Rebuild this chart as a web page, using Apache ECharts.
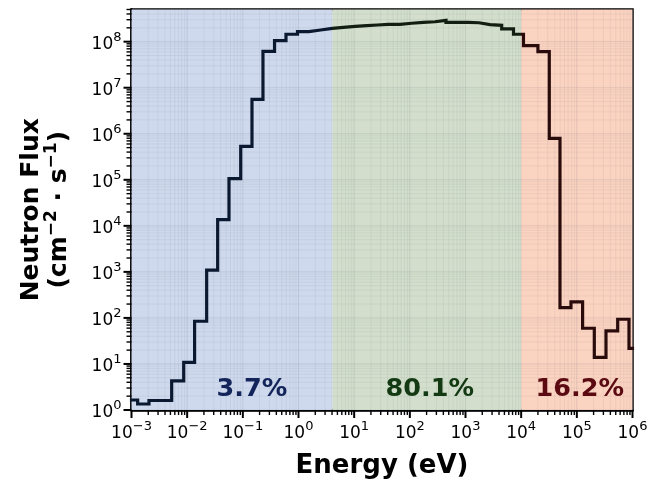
<!DOCTYPE html>
<html>
<head>
<meta charset="utf-8">
<script src="https://cdn.jsdelivr.net/npm/echarts@6/dist/echarts.min.js"></script>
<style>
  html, body { margin: 0; padding: 0; background: #ffffff; }
  #chart { width: 651px; height: 484px; }
</style>
</head>
<body>
<div id="chart"></div>
<script>
// Lower energy edge of each group (eV); the last entry closes the final group
const binEdgesEV = [
  1e-3, 1.29e-3, 2.06e-3, 5.27e-3, 8.67e-3, 1.36e-2, 2.24e-2, 3.53e-2, 5.64e-2, 9.16e-2,
  0.146, 0.230, 0.371, 0.596, 0.959, 1.54, 2.50, 4.05, 6.38, 10.4,
  16.8, 26.2, 41.0, 66.5, 108, 175, 283, 446, 695, 1122,
  1746, 2754, 4467, 7278, 1.1e4, 2.0e4, 3.2e4, 4.98e4, 7.85e4, 1.27e5,
  2.06e5, 3.34e5, 5.42e5, 8.65e5, 1e6
];
// Group flux (cm^-2 s^-1)
const fluxPerBin = [
  1.65, 1.35, 1.61, 4.31, 10.8, 84.7, 1.09e3, 1.37e4, 1.06e5, 5.32e5,
  5.6e6, 6.14e7, 1.05e8, 1.45e8, 1.65e8, 1.79e8, 1.95e8, 2.05e8, 2.16e8, 2.23e8,
  2.30e8, 2.38e8, 2.38e8, 2.51e8, 2.63e8, 2.71e8, 2.91e8, 2.63e8, 2.63e8, 2.58e8,
  2.34e8, 2.27e8, 1.9e8, 1.45e8, 8.2e7, 6.08e7, 7.9e5, 168, 222, 59.7,
  13.9, 52.2, 93.6, 21.7
];
// Energy ranges (thermal / epithermal / fast) and their share of the total flux
const regionBoundsEV = [1e-3, 4.05, 1e4, 1e6];
const regionShares = ['3.7%', '80.1%', '16.2%'];

const regionFill = ['#cfd9ed', '#d3dfcc', '#fbd3c1'];
const regionInk = ['#12245a', '#133a12', '#5a0a10'];
const regionLine = ['#0a1830', '#111e11', '#2a0b0b'];

const X_MIN = 1e-3, X_MAX = 1e6, Y_MIN = 1, Y_MAX = 5e8;
const FONT = 'DejaVu Sans';

// Histogram outline: each group value held across its bin
const stepPoints = binEdgesEV.map((e, i) => [e, fluxPerBin[Math.min(i, fluxPerBin.length - 1)]]);

// Decade and sub-decade positions for ticks and grid
function logPositions(lo, hi) {
  const out = [];
  for (let d = Math.floor(Math.log10(lo)); d <= Math.ceil(Math.log10(hi)); d++) {
    for (let m = 1; m <= 9; m++) {
      const v = m * Math.pow(10, d);
      if (v >= lo * 0.999 && v <= hi * 1.001) out.push([v, m === 1 ? 1 : 0]);
    }
  }
  return out;
}
const xMarks = logPositions(X_MIN, X_MAX);
const yMarks = logPositions(Y_MIN, Y_MAX);
const markData = xMarks.map(m => [m[0], Y_MIN, m[1]]).concat(yMarks.map(m => [X_MIN, m[0], m[1] + 2]));

function powLabel(v) {
  const e = Math.log10(v);
  const n = Math.round(e);
  if (Math.abs(e - n) > 1e-6) return '';
  return '{b|10}{s|' + String(n).replace('-', '\u2212') + '}';
}
const tickRich = {
  b: { fontSize: 17, fontFamily: FONT, color: '#000', verticalAlign: 'bottom', lineHeight: 22 },
  s: { fontSize: 13, fontFamily: FONT, color: '#000', verticalAlign: 'top', lineHeight: 22 }
};

const regionAreas = regionShares.map((s, i) => [
  { xAxis: regionBoundsEV[i], itemStyle: { color: regionFill[i] } },
  { xAxis: regionBoundsEV[i + 1] }
]);
const labelShift = [[20, 0], [3, 0], [3, 0]];
const shareAreas = regionShares.map((s, i) => [
  {
    xAxis: regionBoundsEV[i],
    itemStyle: { color: 'rgba(0,0,0,0)' },
    label: {
      show: true, formatter: s, position: 'insideBottom', distance: 8,
      offset: labelShift[i], color: regionInk[i],
      fontFamily: FONT, fontWeight: 'bold', fontSize: 25.5
    }
  },
  { xAxis: regionBoundsEV[i + 1] }
]);

const gridColorMajor = 'rgba(70,80,100,0.13)';
const gridColorMinor = 'rgba(70,80,100,0.07)';

const option = {
  animation: false,
  backgroundColor: '#ffffff',
  grid: {
    left: 131.5, right: 18.5, top: 9.5, bottom: 73,
    show: true, borderColor: '#000', borderWidth: 2.5, backgroundColor: 'rgba(0,0,0,0)'
  },
  xAxis: {
    type: 'log', logBase: 10, min: X_MIN, max: X_MAX,
    name: 'Energy (eV)', nameLocation: 'middle', nameGap: 43,
    nameTextStyle: { fontFamily: FONT, fontWeight: 'bold', fontSize: 26, color: '#000' },
    axisLine: { show: true, lineStyle: { color: '#000', width: 2.5 } },
    axisTick: { show: false },
    splitLine: { show: false },
    axisLabel: { formatter: powLabel, rich: tickRich, margin: 10, color: '#000' }
  },
  yAxis: {
    type: 'log', logBase: 10, min: Y_MIN, max: Y_MAX,
    name: '{t|Neutron Flux}\n{t|(cm}{s|\u22122}{t| \u00b7 s}{s|\u22121}{t|)}',
    nameLocation: 'middle', nameGap: 60, nameRotate: 90,
    nameTextStyle: {
      rich: {
        t: { fontFamily: FONT, fontWeight: 'bold', fontSize: 25, color: '#000', lineHeight: 28, verticalAlign: 'bottom' },
        s: { fontFamily: FONT, fontWeight: 'bold', fontSize: 17, color: '#000', lineHeight: 28, verticalAlign: 'top' }
      }
    },
    axisLine: { show: true, lineStyle: { color: '#000', width: 2.5 } },
    axisTick: { show: false },
    splitLine: { show: false },
    axisLabel: { formatter: powLabel, rich: tickRich, margin: 10, color: '#000' }
  },
  visualMap: {
    show: false, type: 'piecewise', dimension: 0, seriesIndex: 2,
    pieces: [
      { lt: regionBoundsEV[1], color: regionLine[0] },
      { gte: regionBoundsEV[1], lt: regionBoundsEV[2], color: regionLine[1] },
      { gte: regionBoundsEV[2], color: regionLine[2] }
    ]
  },
  series: [
    {
      type: 'line', data: [], z: 1, silent: true,
      markArea: { silent: true, z: 1, data: regionAreas }
    },
    {
      // light major and minor grid
      type: 'custom', z: 2, silent: true, data: markData, encode: { x: 0, y: 1 },
      renderItem: function (params, api) {
        const kind = api.value(2);
        const major = kind === 1 || kind === 3;
        const style = { stroke: major ? gridColorMajor : gridColorMinor, lineWidth: 1 };
        if (kind < 2) {
          const a = api.coord([api.value(0), Y_MIN]);
          const b = api.coord([api.value(0), Y_MAX]);
          return { type: 'line', shape: { x1: a[0], y1: a[1], x2: b[0], y2: b[1] }, style: style };
        }
        const a = api.coord([X_MIN, api.value(1)]);
        const b = api.coord([X_MAX, api.value(1)]);
        return { type: 'line', shape: { x1: a[0], y1: a[1], x2: b[0], y2: b[1] }, style: style };
      }
    },
    {
      type: 'line', z: 3, step: 'end', showSymbol: false, symbol: 'none',
      data: stepPoints,
      lineStyle: { width: 3.2, cap: 'square', join: 'miter' }
    },
    {
      // outward ticks on the bottom and left axes
      type: 'custom', z: 4, silent: true, data: markData, encode: { x: 0, y: 1 },
      renderItem: function (params, api) {
        const kind = api.value(2);
        const major = kind === 1 || kind === 3;
        const len = major ? 8 : 5;
        const style = { stroke: '#000', lineWidth: major ? 2 : 1.4 };
        if (kind < 2) {
          const p = api.coord([api.value(0), Y_MIN]);
          return { type: 'line', shape: { x1: p[0], y1: p[1], x2: p[0], y2: p[1] + len }, style: style };
        }
        const p = api.coord([X_MIN, api.value(1)]);
        return { type: 'line', shape: { x1: p[0], y1: p[1], x2: p[0] - len, y2: p[1] }, style: style };
      }
    },
    {
      type: 'line', data: [], z: 6, silent: true,
      markArea: { silent: true, z: 6, data: shareAreas }
    }
  ]
};

const chart = echarts.init(document.getElementById('chart'));
chart.setOption(option);
</script>
</body>
</html>
